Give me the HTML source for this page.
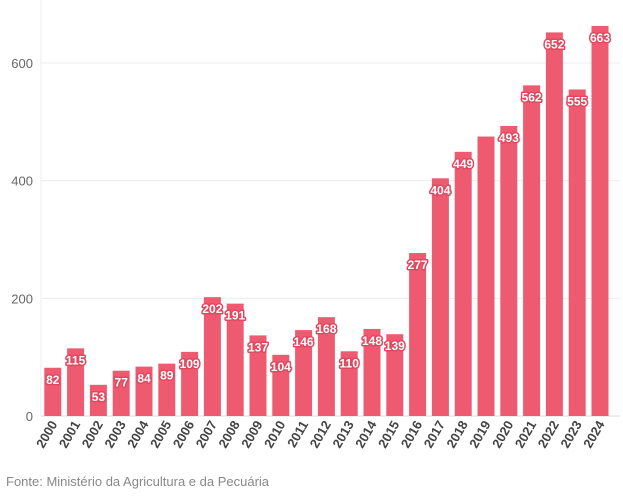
<!DOCTYPE html>
<html><head><meta charset="utf-8"><style>
body{margin:0;background:#fff;font-family:"Liberation Sans",sans-serif}
svg text{font-family:"Liberation Sans",sans-serif}
.lbl{font-weight:bold;font-size:12px;fill:#fff;stroke:#e0485f;stroke-width:3px;paint-order:stroke;stroke-linejoin:round}
</style></head><body>
<svg id="chart" width="623" height="491" xmlns="http://www.w3.org/2000/svg">
<g id="grid"></g><g id="bars"></g><g id="labels"></g><g id="xticks"></g>
<text x="6" y="486" font-size="13" fill="#888">Fonte: Ministério da Agricultura e da Pecuária</text>
</svg>
<script>
const years=["2000","2001","2002","2003","2004","2005","2006","2007","2008","2009","2010","2011","2012","2013","2014","2015","2016","2017","2018","2019","2020","2021","2022","2023","2024"];
const values=[82,115,53,77,84,89,109,202,191,137,104,146,168,110,148,139,277,404,449,475,493,562,652,555,663];
const showLabel=[1,1,1,1,1,1,1,1,1,1,1,1,1,1,1,1,1,1,1,0,1,1,1,1,1];
const yTicks=[0,200,400,600];
const NS="http://www.w3.org/2000/svg";
const y0=416,k=(416-63)/600,x0=52.8,step=22.8,bw=17;
const y=v=>y0-v*k, x=i=>x0+i*step;
function mk(t,a,p){const e=document.createElementNS(NS,t);for(const n in a)e.setAttribute(n,a[n]);p.appendChild(e);return e;}
const grid=document.getElementById('grid');
yTicks.forEach(t=>{
 const l=mk('line',{x1:41,x2:620,y1:y(t),y2:y(t),stroke:t?'#ececec':'#ddd'},grid);
 
 
 const tx=mk('text',{x:33,y:y(t)+5,'text-anchor':'end','font-size':13,fill:'#666'},grid);
 tx.textContent=t;
 
 
});
const ax=mk('line',{x1:41,x2:41,y1:0,y2:416,stroke:'#eee'},grid);


values.forEach((v,i)=>{
 const r=mk('rect',{x:x(i)-bw/2,y:y(v),width:bw,height:y0-y(v),fill:'#ee5b70'},document.getElementById('bars'));
 
 
 if(showLabel[i]){
  const t=mk('text',{x:x(i),y:y(v)+16,'text-anchor':'middle',class:'lbl'},document.getElementById('labels'));
  t.textContent=v;
  
  
 }
 const yt=mk('text',{transform:`translate(${x(i)+5},${y0+8}) rotate(-60)`,'text-anchor':'end','font-size':13,'font-weight':'bold',fill:'#444'},document.getElementById('xticks'));
 yt.textContent=years[i];
 
 
});
</script>
</body></html>
